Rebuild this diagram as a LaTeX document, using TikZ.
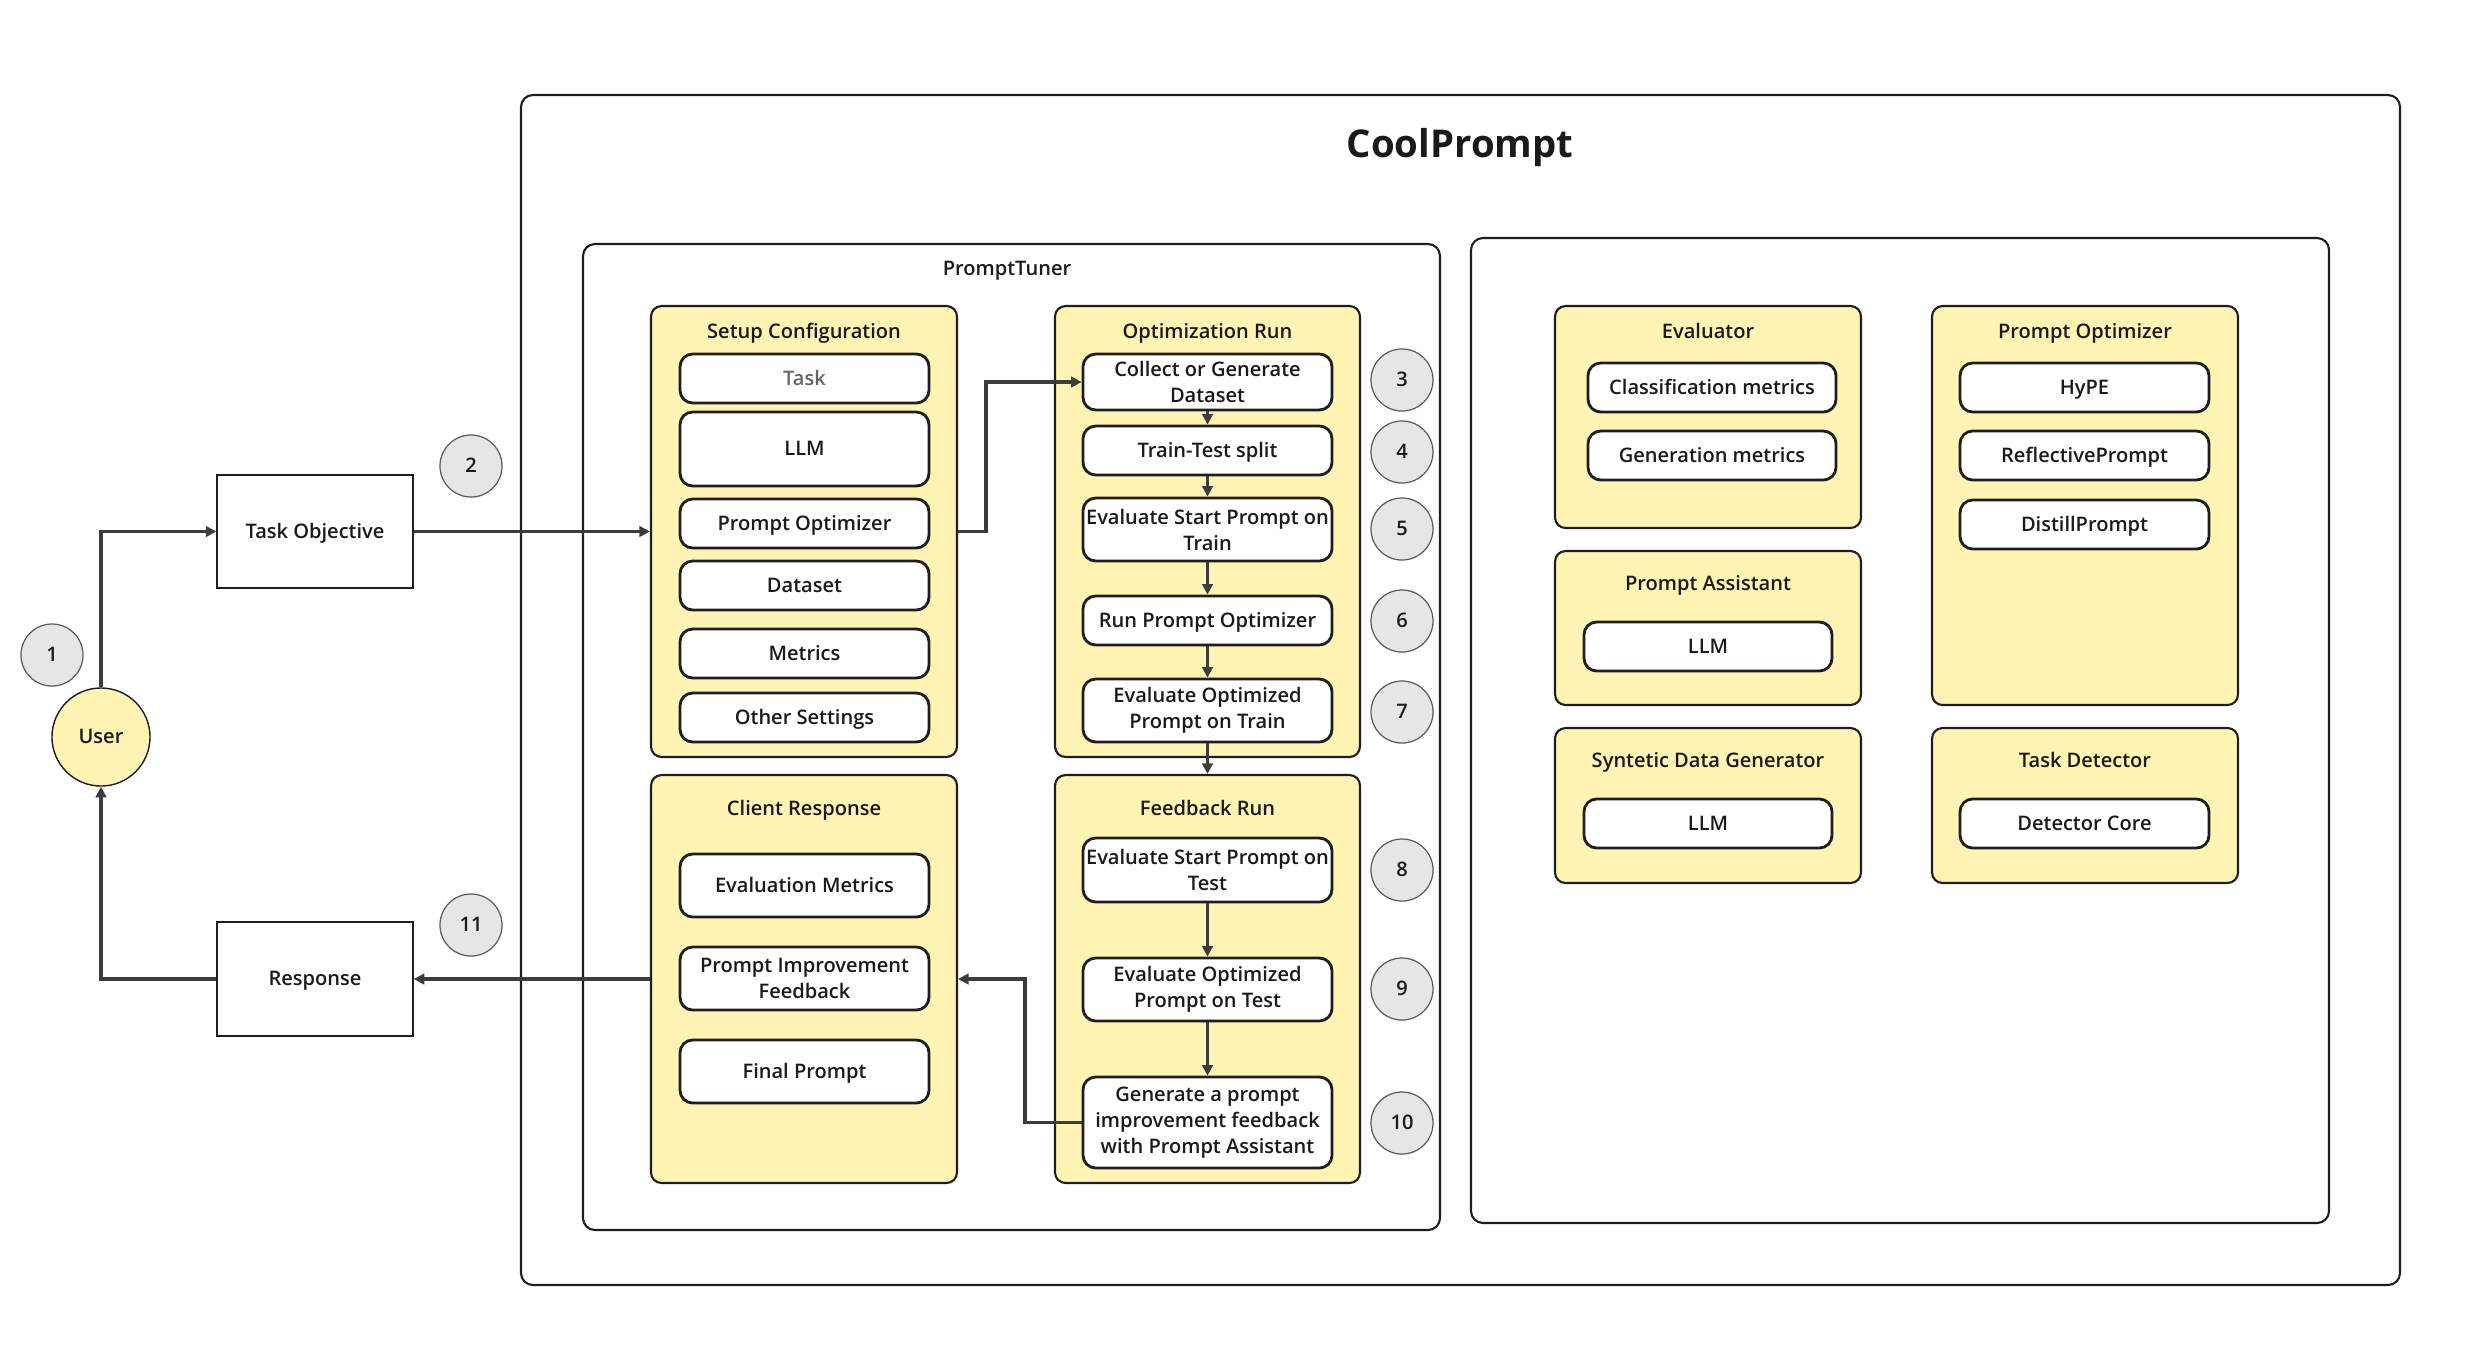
\documentclass[tikz,border=0pt]{standalone}
\usepackage{fontspec}
\setmainfont{Open Sans}[BoldFont={Open Sans Semibold}]
\newfontfamily\titlefont{Open Sans}
\usetikzlibrary{arrows.meta}
\definecolor{yel}{RGB}{255,244,180}
\definecolor{edge}{RGB}{30,30,30}
\definecolor{arr}{RGB}{60,60,60}
\definecolor{txt}{RGB}{26,26,26}
\definecolor{numfill}{RGB}{230,230,230}
\definecolor{numedge}{RGB}{90,90,90}
\newcommand\fsz{\fontsize{5.7}{7.4}\selectfont}
% box from (x1,y1) to (x2,y2) in px, style #1, name #6
\newcommand\bx[6]{\node[#1, minimum width={(#4-#2)*0.01cm}, minimum height={(#5-#3)*0.01cm}] (#6) at ({(#2+#4)/2},{(#3+#5)/2})}
\begin{document}
\begin{tikzpicture}[x=0.01cm,y=-0.01cm,
  every node/.style={font=\fsz\bfseries, text=txt},
  frame/.style={draw=edge, line width=0.6pt, rounded corners=3.4pt, inner sep=0pt},
  cont/.style={draw=edge, line width=0.6pt, fill=yel, rounded corners=3pt, inner sep=0pt},
  ibox/.style={draw=edge, line width=0.8pt, fill=white, rounded corners=3.6pt, inner sep=0pt, align=center},
  one/.style={text height=5pt, text depth=1.15pt},
  plainbox/.style={draw=edge, line width=0.4pt, fill=white, inner sep=0pt, one},
  num/.style={circle, draw=numedge, line width=0.35pt, fill=numfill, minimum size=0.62cm, inner sep=0pt},
  ttl/.style={anchor=base, inner sep=0pt},
  conn/.style={draw=arr, line width=0.9pt, -{Triangle[length=3pt,width=3pt]}}]
\useasboundingbox (0,0) rectangle (2470,1366);

% frames
\bx{frame}{521}{95}{2400}{1285}{cool} {};
\node[ttl, font=\titlefont\fontsize{10.9}{12}\selectfont\bfseries] (cooltitle) at (1460,157) {CoolPrompt};
\bx{frame}{583}{244}{1440}{1230}{ptuner} {};
\node[ttl] (ptunertitle) at (1007,275) {PromptTuner};
\bx{frame}{1471}{238}{2329}{1223}{rbox} {};

% left side
\node[circle, draw=edge, line width=0.4pt, fill=yel, minimum size=0.98cm, inner sep=0pt, one] (user) at (101,737) {User};
\bx{plainbox}{217}{475}{413}{588}{taskobj} {Task Objective};
\bx{plainbox}{217}{922}{413}{1036}{resp} {Response};
\node[num, one] (n1) at (52,655) {1};
\node[num, one] (n2) at (471,466) {2};
\node[num, one] (n11) at (471,925) {11};

% Setup Configuration
\bx{cont}{651}{306}{957}{757}{setup} {};
\node[ttl] (setupt) at (804,338) {Setup Configuration};
\bx{ibox, one, text=gray!80!black}{680}{354}{929}{403}{s1} {Task};
\bx{ibox, one}{680}{412}{929}{486}{s2} {LLM};
\bx{ibox, one}{680}{499}{929}{548}{s3} {Prompt Optimizer};
\bx{ibox, one}{680}{561}{929}{610}{s4} {Dataset};
\bx{ibox, one}{680}{629}{929}{678}{s5} {Metrics};
\bx{ibox, one}{680}{693}{929}{742}{s6} {Other Settings};

% Optimization Run
\bx{cont}{1055}{306}{1360}{757}{optrun} {};
\node[ttl] (optrunt) at (1207.5,338) {Optimization Run};
\bx{ibox}{1083}{354}{1332}{410}{o1} {Collect or Generate\\Dataset};
\bx{ibox, one}{1083}{426}{1332}{475}{o2} {Train-Test split};
\bx{ibox}{1083}{498}{1332}{561}{o3} {Evaluate Start Prompt on\\Train};
\bx{ibox, one}{1083}{596}{1332}{645}{o4} {Run Prompt Optimizer};
\bx{ibox}{1083}{679}{1332}{742}{o5} {Evaluate Optimized\\Prompt on Train};

% Client Response
\bx{cont}{651}{775}{957}{1183}{client} {};
\node[ttl] (clientt) at (804,815) {Client Response};
\bx{ibox, one}{680}{854}{929}{917}{c1} {Evaluation Metrics};
\bx{ibox}{680}{947}{929}{1010}{c2} {Prompt Improvement\\Feedback};
\bx{ibox, one}{680}{1040}{929}{1103}{c3} {Final Prompt};

% Feedback Run
\bx{cont}{1055}{775}{1360}{1183}{fbrun} {};
\node[ttl] (fbrunt) at (1207.5,815) {Feedback Run};
\bx{ibox}{1083}{838}{1332}{902}{f1} {Evaluate Start Prompt on\\Test};
\bx{ibox}{1083}{958}{1332}{1021}{f2} {Evaluate Optimized\\Prompt on Test};
\bx{ibox}{1083}{1077}{1332}{1168}{f3} {Generate a prompt\\improvement feedback\\with Prompt Assistant};

% numbers
\node[num, one] (n3) at (1402,380) {3};
\node[num, one] (n4) at (1402,452) {4};
\node[num, one] (n5) at (1402,529) {5};
\node[num, one] (n6) at (1402,621) {6};
\node[num, one] (n7) at (1402,712) {7};
\node[num, one] (n8) at (1402,870) {8};
\node[num, one] (n9) at (1402,989) {9};
\node[num, one] (n10) at (1402,1123) {10};

% right components
\bx{cont}{1555}{306}{1861}{528}{evalr} {};
\node[ttl] (evalrt) at (1708,338) {Evaluator};
\bx{ibox, one}{1588}{363}{1836}{412}{e1} {Classification metrics};
\bx{ibox, one}{1588}{431}{1836}{480}{e2} {Generation metrics};

\bx{cont}{1555}{551}{1861}{705}{passist} {};
\node[ttl] (passistt) at (1708,590) {Prompt Assistant};
\bx{ibox, one}{1584}{622}{1832}{671}{pa1} {LLM};

\bx{cont}{1555}{728}{1861}{883}{sdg} {};
\node[ttl] (sdgt) at (1708,767) {Syntetic Data Generator};
\bx{ibox, one}{1584}{799}{1832}{848}{sd1} {LLM};

\bx{cont}{1932}{306}{2238}{705}{popt} {};
\node[ttl] (poptt) at (2085,338) {Prompt Optimizer};
\bx{ibox, one}{1960}{363}{2209}{412}{p1} {HyPE};
\bx{ibox, one}{1960}{431}{2209}{480}{p2} {ReflectivePrompt};
\bx{ibox, one}{1960}{500}{2209}{549}{p3} {DistillPrompt};

\bx{cont}{1932}{728}{2238}{883}{tdet} {};
\node[ttl] (tdett) at (2085,767) {Task Detector};
\bx{ibox, one}{1960}{799}{2209}{848}{t1} {Detector Core};

% connectors
\draw[conn] (user.north) |- (taskobj.west);
\draw[conn] (taskobj.east) -- (setup.west);
\draw[conn] (setup.east) -- (986,531.5) |- (o1.west);
\draw[conn] (o1.south) -- (o2.north);
\draw[conn] (o2.south) -- (o3.north);
\draw[conn] (o3.south) -- (o4.north);
\draw[conn] (o4.south) -- (o5.north);
\draw[conn] (o5.south) -- (fbrun.north);
\draw[conn] (f1.south) -- (f2.north);
\draw[conn] (f2.south) -- (f3.north);
\draw[conn] (f3.west) -- (1025,1122.5) |- (client.east);
\draw[conn] (client.west) -- (resp.east);
\draw[conn] (resp.west) -| (user.south);
\end{tikzpicture}
\end{document}
